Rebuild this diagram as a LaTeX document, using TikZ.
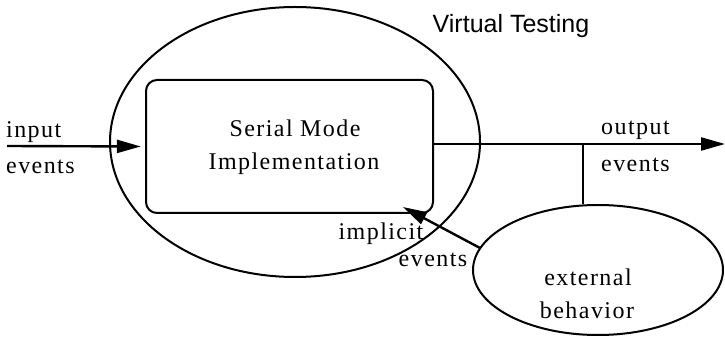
\documentclass[tikz,border=0pt]{standalone}
\usepackage{fontspec}
\setmainfont{Liberation Serif}[LetterSpace=6]
\setsansfont{Liberation Sans}
\usetikzlibrary{arrows.meta,shapes.geometric}
\begin{document}
\begin{tikzpicture}[x=1pt,y=-1pt,
  shape line/.style={line width=2pt},
  flow/.style={line width=2.4pt,-{Triangle[length=24pt,width=13pt]}},
  lbl/.style={font=\fontsize{24}{26}\selectfont, inner sep=0pt},
  ellipsebox/.style={ellipse, draw, shape line, inner sep=0pt}]
\useasboundingbox (0,0) rectangle (725,344);
% big ellipse
\node[ellipsebox, minimum width=370pt, minimum height=270pt] (vt) at (295,142) {};
% rounded rectangle
\draw[shape line, rounded corners=11pt] (146,80) rectangle (433,213);
\node[inner sep=0pt, minimum width=287pt, minimum height=133pt] (smi) at (289.5,146.5) {};
\node[lbl] (t1) at (295,128) {Serial Mode};
\node[lbl] (t2) at (294,164) {Implementation};
% external ellipse
\node[ellipsebox, minimum width=250pt, minimum height=130pt] (ext) at (598,270) {};
\node[lbl] (t3) at (588,277) {external};
\node[lbl] (t4) at (587,310) {behavior};
% title
\node[inner sep=0pt, font=\sffamily\fontsize{25}{27}\selectfont] (title) at (511,26) {Virtual Testing};
% input arrow
\coordinate (in0) at (7,146);
\draw[flow, shorten >=5pt] (in0) -- (smi.west);
\node[lbl, anchor=west] (in1) at (6,132) {input};
\node[lbl, anchor=west] (in2) at (6,167) {events};
% output arrow
\coordinate (out1) at (725,144);
\coordinate (tap) at (583,144);
\draw[flow] (smi.east |- tap) -- (out1);
\draw[shape line] (tap) -- (ext.north -| tap);
\node[lbl, anchor=west] (o1) at (601,130) {output};
\node[lbl, anchor=west] (o2) at (601,165) {events};
% implicit events arrow
\coordinate (imptip) at (403,207);
\path (ext) ++(-118,-22) coordinate (impstart);
\draw[flow] (impstart) -- (imptip);
\node[lbl] (i1) at (381,234) {implicit};
\node[lbl] (i2) at (433,260) {events};
\end{tikzpicture}
\end{document}
